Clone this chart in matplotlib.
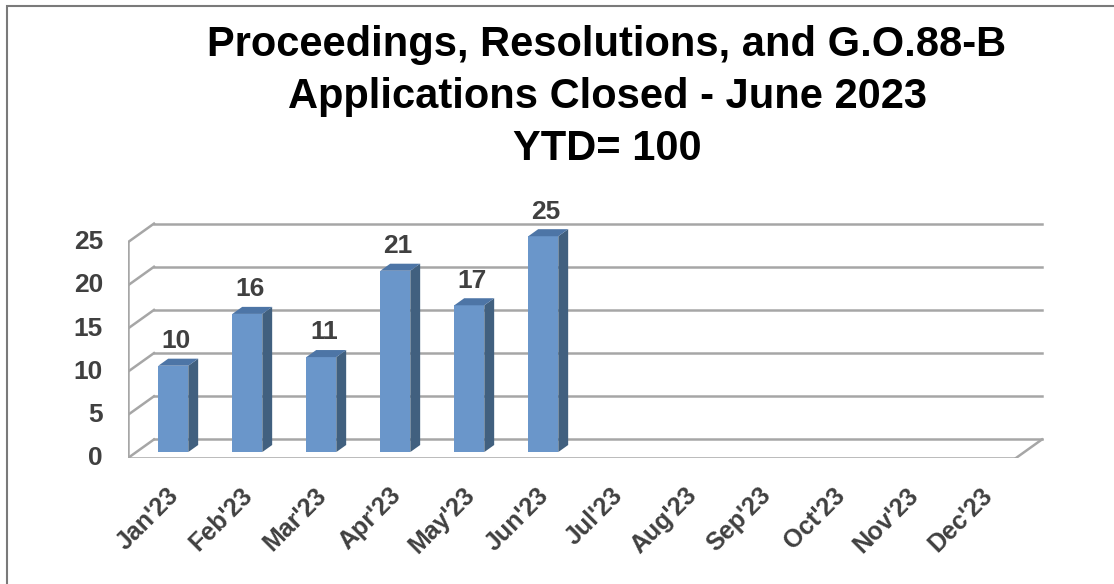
import matplotlib.pyplot as plt
from matplotlib.patches import Polygon, Rectangle
import numpy as np

months = ["Jan'23", "Feb'23", "Mar'23", "Apr'23", "May'23", "Jun'23",
          "Jul'23", "Aug'23", "Sep'23", "Oct'23", "Nov'23", "Dec'23"]
closed = [10, 16, 11, 21, 17, 25]
yticks = [0, 5, 10, 15, 20, 25]
title = "Proceedings, Resolutions, and G.O.88-B\nApplications Closed - June 2023\nYTD= 100"

# fake 3D geometry (data units)
DX, DY = 0.351, 2.15      # depth of the floor / wall
F0, D = 0.32, 0.38        # where bars start in depth, and how deep they are
W = 0.405                 # bar width

front_col = "#6A96CA"
side_col = "#41607F"
top_col = "#4D75A6"
grid_col = "#A6A6A6"
text_col = "#404040"
font = "Liberation Sans"

fig = plt.figure(figsize=(11.14, 5.84), dpi=100)
ax = fig.add_axes([128 / 1114, 126 / 584, 925 / 1114, 259 / 584])
ax.set_xlim(-0.5, 12.0)
ax.set_ylim(0, 30)
ax.axis("off")

n = len(months)
x0, x1 = -0.5, n - 0.5

# walls and gridlines
ax.plot([x0, x0], [0, yticks[-1]], color=grid_col, lw=1.8, zorder=1)
for v in yticks:
    ax.plot([x0, x0 + DX], [v, v + DY], color=grid_col, lw=1.8, zorder=1)
    ax.plot([x0 + DX, x1 + DX], [v + DY, v + DY], color=grid_col, lw=1.8, zorder=1)
ax.plot([x0, x1], [0, 0], color=grid_col, lw=1.8, zorder=1)
ax.plot([x1, x1 + DX], [0, DY], color=grid_col, lw=1.8, zorder=1)

# bars
xs = np.arange(len(closed)) + F0 * DX
base = F0 * DY
ax.bar(xs, closed, width=W, bottom=base, color=front_col, zorder=3)
for xc, v in zip(xs, closed):
    xl, xr = xc - W / 2, xc + W / 2
    top = v + base
    side = [(xr, base), (xr + D * DX, base + D * DY),
            (xr + D * DX, top + D * DY), (xr, top)]
    ax.add_patch(Polygon(side, closed=True, fc=side_col, ec="none", zorder=3))
    cap = [(xl, top), (xr, top), (xr + D * DX, top + D * DY), (xl + D * DX, top + D * DY)]
    ax.add_patch(Polygon(cap, closed=True, fc=top_col, ec="none", zorder=3))
    ax.annotate(str(v), (xc + D * DX / 4, top + D * DY), xytext=(0, 4),
                textcoords="offset points", ha="center", va="bottom",
                fontsize=19, fontweight="bold", color=text_col,
                family=font, annotation_clip=False)

# y tick labels
for v in yticks:
    ax.annotate(str(v), (x0, v), xytext=(-18, 0), textcoords="offset points",
                ha="right", va="center", fontsize=19, fontweight="bold",
                color=text_col, family=font, annotation_clip=False)

# x tick labels
for i, m in enumerate(months):
    ax.annotate(m, (i + 0.02, 0), xytext=(0, -18), textcoords="offset points",
                ha="right", va="top", rotation=45, rotation_mode="anchor",
                fontsize=18, fontweight="bold", color=text_col,
                family=font, annotation_clip=False)

fig.text(607 / 1114, 1 - 25 / 584, title, ha="center", va="top", family=font,
         fontsize=30, fontweight="bold", color="black", linespacing=1.38)

fig.patches.append(Rectangle((7 / 1114, -0.05), 1.2, 1.05 - 6 / 584, transform=fig.transFigure,
                             fill=False, ec="#7A7A7A", lw=1.5))

plt.savefig("out.png", dpi=100)
